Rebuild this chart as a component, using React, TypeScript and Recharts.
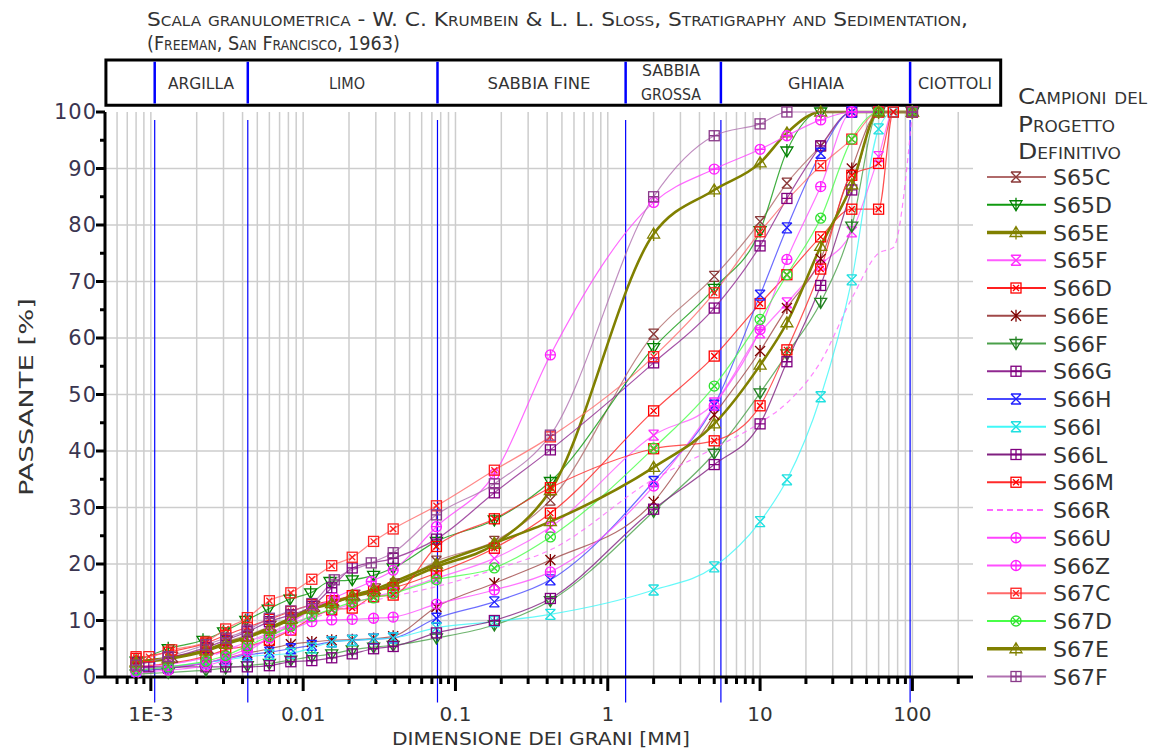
import React from 'react';
import { LineChart, Line, XAxis, YAxis, CartesianGrid, ReferenceLine, ReferenceArea, Legend } from 'recharts';

type Pt = [number, number];

// grain size [mm], passing [%]
const S65C: Pt[] = [[0.0008, 2.4], [0.0014, 3.5], [0.0024, 5], [0.0032, 6.3], [0.0044, 7.5], [0.0062, 9], [0.0085, 10.5], [0.012, 12.5], [0.016, 13.5], [0.022, 14.5], [0.03, 15.6], [0.04, 16.5], [0.075, 20.5], [0.18, 24], [0.42, 31.3], [2, 60.7], [5, 70.9], [10, 80.6], [15, 87.4], [25, 94], [40, 100], [100, 100]];
const S65D: Pt[] = [[0.0008, 2.8], [0.0013, 5], [0.0022, 6.5], [0.003, 8], [0.0042, 10], [0.0059, 12], [0.0082, 13.8], [0.0112, 14.9], [0.015, 16.9], [0.021, 17.2], [0.029, 18], [0.039, 19.3], [0.075, 24], [0.18, 27.8], [0.42, 34.6], [2, 58.3], [5, 68.8], [10, 79], [15, 93.1], [25, 100], [100, 100]];
const S65E: Pt[] = [[0.0008, 2.7], [0.0013, 3.4], [0.0023, 4.8], [0.0031, 6], [0.0043, 7.1], [0.006, 8.7], [0.0083, 10.4], [0.0114, 12.2], [0.0154, 13.1], [0.021, 14.2], [0.029, 15.1], [0.039, 16.3], [0.075, 19.5], [0.18, 23.5], [0.42, 33], [2, 78.4], [5, 86.2], [10, 91], [15, 96.3], [25, 100], [100, 100]];
const S65F: Pt[] = [[0.0008, 1.5], [0.0013, 2.2], [0.0023, 3.5], [0.0031, 4.8], [0.0043, 6.2], [0.006, 7.8], [0.0083, 9.4], [0.0114, 10.8], [0.0154, 11.8], [0.021, 13], [0.029, 14.2], [0.039, 15], [0.075, 17.5], [0.18, 21], [0.42, 26.5], [2, 42.8], [5, 48.5], [10, 60.9], [15, 66.2], [25, 72.9], [40, 78.8], [60, 92.1], [75, 100], [100, 100]];
const S66D: Pt[] = [[0.0008, 3.3], [0.0013, 4.4], [0.0023, 6], [0.0031, 7.4], [0.0043, 8.8], [0.006, 10.2], [0.0083, 11.6], [0.0114, 12.8], [0.0154, 13.5], [0.021, 14.4], [0.029, 15.2], [0.039, 15.8], [0.075, 18.4], [0.18, 22.8], [0.42, 29], [2, 47.1], [5, 56.8], [10, 66.1], [15, 71.2], [25, 77.9], [40, 82.8], [60, 82.8], [75, 100], [100, 100]];
const S66E: Pt[] = [[0.0008, 1], [0.0013, 1.5], [0.0023, 2.5], [0.0031, 3.3], [0.0043, 4.2], [0.006, 5], [0.0083, 5.8], [0.0114, 6.2], [0.0154, 6.5], [0.021, 6.6], [0.029, 6.8], [0.039, 7.2], [0.075, 12.4], [0.18, 16.6], [0.42, 20.7], [2, 31], [5, 46.4], [10, 57.7], [15, 65.3], [25, 74], [40, 90], [60, 100], [100, 100]];
const S66F: Pt[] = [[0.0008, 0.5], [0.0013, 0.8], [0.0023, 1.2], [0.0031, 1.6], [0.0043, 2], [0.006, 2.4], [0.0083, 3], [0.0114, 3.6], [0.0154, 4.1], [0.021, 4.8], [0.029, 5.3], [0.039, 5.6], [0.075, 6.9], [0.18, 9.2], [0.42, 13.5], [2, 29.3], [5, 39.6], [10, 50.3], [15, 57.2], [25, 66.3], [40, 79.8], [60, 100], [100, 100]];
const S66G: Pt[] = [[0.0008, 2.5], [0.0013, 3.4], [0.0023, 5.2], [0.0031, 6.5], [0.0043, 8], [0.006, 9.8], [0.0083, 11], [0.0114, 12.5], [0.0154, 15.8], [0.021, 19.3], [0.039, 21], [0.075, 24.4], [0.18, 32.6], [0.42, 40.2], [2, 55.6], [5, 65.3], [10, 76.3], [15, 84.7], [25, 94], [40, 100], [100, 100]];
const S66H: Pt[] = [[0.0008, 1], [0.0013, 1.6], [0.0023, 2.5], [0.0031, 3.2], [0.0043, 3.9], [0.006, 4.4], [0.0083, 5], [0.0114, 5.6], [0.0154, 6.2], [0.021, 6.5], [0.029, 6.7], [0.039, 6.9], [0.075, 10.4], [0.18, 13.3], [0.42, 17.2], [2, 34.6], [5, 48.1], [10, 67.6], [15, 79.5], [25, 92.7], [40, 100], [100, 100]];
const S66I: Pt[] = [[0.0008, 1.2], [0.0013, 1.8], [0.0023, 2.6], [0.0031, 3], [0.0043, 3.6], [0.006, 3.9], [0.0083, 4.2], [0.0114, 5.1], [0.0154, 6.2], [0.021, 6.5], [0.029, 6.7], [0.039, 6.9], [0.075, 8.7], [0.18, 9.8], [0.42, 11.1], [2, 15.4], [5, 19.5], [10, 27.5], [15, 34.9], [25, 49.6], [40, 70.3], [60, 97], [75, 100], [100, 100]];
const S66L: Pt[] = [[0.0008, 1.8], [0.00097, 1.8], [0.0013, 1.8], [0.0023, 1.8], [0.0031, 1.8], [0.0043, 1.8], [0.006, 2], [0.0083, 2.7], [0.0114, 2.9], [0.0154, 3.4], [0.021, 4.1], [0.029, 5], [0.039, 5.4], [0.075, 7.8], [0.18, 10], [0.42, 13.9], [2, 29.7], [5, 37.6], [10, 44.8], [15, 55.8], [25, 69.3], [40, 86.2], [60, 100], [100, 100]];
const S66M: Pt[] = [[0.0008, 1.8], [0.0023, 3.7], [0.0031, 4.8], [0.0043, 5.5], [0.006, 6.5], [0.0083, 8.3], [0.0154, 11.9], [0.021, 12.2], [0.029, 14.2], [0.039, 14.5], [0.075, 23.1], [0.18, 28], [0.42, 33.5], [2, 40.4], [5, 41.8], [10, 48], [15, 57.9], [25, 72.2], [40, 88.8], [60, 90.9], [75, 100], [100, 100]];
const S66R: Pt[] = [[0.0008, 1.8], [0.0023, 3.5], [0.0043, 6], [0.0083, 9], [0.0154, 11.5], [0.029, 13.5], [0.075, 16], [0.18, 19], [0.42, 22.5], [2, 35], [5, 40.5], [10, 45], [15, 48.5], [25, 55.8], [40, 67], [60, 75], [75, 76], [100, 100]];
const S66U: Pt[] = [[0.0008, 1.2], [0.0013, 1.8], [0.0023, 2.5], [0.0031, 3.5], [0.0043, 5], [0.006, 7], [0.0083, 9.5], [0.0114, 12], [0.016, 14], [0.028, 16.9], [0.039, 18.9], [0.075, 26.6], [0.18, 35.9], [0.42, 57], [2, 84], [5, 89.9], [10, 93.4], [15, 95.8], [25, 98.6], [40, 100], [100, 100]];
const S66Z: Pt[] = [[0.0008, 0.8], [0.0013, 1.2], [0.0023, 2], [0.0031, 3], [0.0043, 4.5], [0.006, 6.9], [0.0083, 8.3], [0.0114, 9.8], [0.0154, 10.1], [0.021, 10.2], [0.029, 10.4], [0.039, 10.6], [0.075, 12.9], [0.18, 15.4], [0.42, 18.6], [2, 33.8], [5, 48], [10, 61.5], [15, 73.9], [25, 86.8], [40, 100], [100, 100]];
const S67C: Pt[] = [[0.0008, 3.6], [0.00097, 3.6], [0.00137, 4.8], [0.0023, 6.2], [0.0031, 8.5], [0.0043, 10.5], [0.006, 13.5], [0.0083, 14.9], [0.0114, 17.3], [0.0154, 19.7], [0.021, 21.2], [0.029, 24], [0.039, 26.2], [0.075, 30.3], [0.18, 36.6], [0.42, 42.5], [2, 56.7], [5, 68], [10, 78.8], [25, 90.5], [40, 95.2], [60, 100], [100, 100]];
const S67D: Pt[] = [[0.0008, 1.2], [0.0013, 1.8], [0.0023, 2.8], [0.0031, 3.8], [0.0043, 5.5], [0.006, 7.2], [0.0083, 9], [0.0114, 10.8], [0.0154, 12], [0.021, 13.2], [0.029, 14], [0.039, 14.8], [0.075, 17.2], [0.18, 19.3], [0.42, 24.8], [2, 40.5], [5, 51.5], [10, 63.3], [15, 71.2], [25, 81.2], [40, 95.2], [60, 100], [100, 100]];
const S67E: Pt[] = [[0.0008, 2.5], [0.0013, 3.2], [0.0023, 4.6], [0.0031, 5.8], [0.0043, 7], [0.006, 8.5], [0.0083, 10.2], [0.0114, 12], [0.0154, 13], [0.021, 14.4], [0.029, 15.5], [0.039, 16.8], [0.075, 20], [0.18, 23.7], [0.42, 27.5], [2, 37.1], [5, 44.8], [10, 55.2], [15, 62.7], [25, 76.2], [40, 87.1], [60, 100], [100, 100]];
const S67F: Pt[] = [[0.0008, 2.1], [0.0013, 3.6], [0.0023, 5.7], [0.0031, 6.9], [0.0043, 8.3], [0.006, 10.4], [0.0083, 11.7], [0.0114, 13], [0.016, 17.2], [0.028, 20.2], [0.039, 22], [0.075, 28.7], [0.18, 34.2], [0.42, 42.8], [2, 85], [5, 95.8], [10, 97.9], [15, 100], [100, 100]];

const SERIES = [
  { name: 'S65C', data: S65C, color: '#b06a6a', mark: '#8b3a3a', shape: 'xbow', w: 1.2 },
  { name: 'S65D', data: S65D, color: '#109a10', mark: '#008000', shape: 'vtri', w: 1.2 },
  { name: 'S65E', data: S65E, color: '#808000', mark: '#808000', shape: 'tri', w: 2.6 },
  { name: 'S65F', data: S65F, color: '#ff5cff', mark: '#ff30ff', shape: 'xbow', w: 1.2 },
  { name: 'S66D', data: S66D, color: '#ff2020', mark: '#ff0000', shape: 'sqx', w: 1.2 },
  { name: 'S66E', data: S66E, color: '#a04848', mark: '#800000', shape: 'star', w: 1.2 },
  { name: 'S66F', data: S66F, color: '#4aa04a', mark: '#208020', shape: 'vtri', w: 1.2 },
  { name: 'S66G', data: S66G, color: '#902890', mark: '#800080', shape: 'sqplus', w: 1.2 },
  { name: 'S66H', data: S66H, color: '#4848ff', mark: '#2020ff', shape: 'xbow', w: 1.2 },
  { name: 'S66I', data: S66I, color: '#40f8f8', mark: '#20e0e0', shape: 'xbow', w: 1.2 },
  { name: 'S66L', data: S66L, color: '#802080', mark: '#800080', shape: 'sqplus', w: 1.2 },
  { name: 'S66M', data: S66M, color: '#ff2a2a', mark: '#ff0000', shape: 'sqx', w: 1.2 },
  { name: 'S66R', data: S66R, color: '#ff66ff', mark: '#ff66ff', shape: 'none', w: 1.2, dash: '5 4' },
  { name: 'S66U', data: S66U, color: '#ff44ff', mark: '#ff20ff', shape: 'cplus', w: 1.2 },
  { name: 'S66Z', data: S66Z, color: '#ff50ff', mark: '#ff20ff', shape: 'cplus', w: 1.2 },
  { name: 'S67C', data: S67C, color: '#ff6a6a', mark: '#ff2020', shape: 'sqx', w: 1.2 },
  { name: 'S67D', data: S67D, color: '#48ff48', mark: '#30e030', shape: 'cx', w: 1.2 },
  { name: 'S67E', data: S67E, color: '#808000', mark: '#808000', shape: 'tri', w: 2.6 },
  { name: 'S67F', data: S67F, color: '#b070b0', mark: '#8a3a8a', shape: 'sqplus', w: 1.2 },
];

const X_MAJOR = [0.001, 0.01, 0.1, 1, 10, 100];
const X_MAJOR_LABELS = ['1E-3', '0.01', '0.1', '1', '10', '100'];
const Y_TICKS = [0, 5, 10, 15, 20, 25, 30, 35, 40, 45, 50, 55, 60, 65, 70, 75, 80, 85, 90, 95, 100];
const Y_GRID = [10, 20, 30, 40, 50, 60, 70, 80, 90];

// class boundaries [mm] and names of the header box
const ZONE_BOUNDS = [0.00106, 0.00433, 0.0762, 1.31, 5.53, 96.6];
const ZONES = [
  { label: ['ARGILLA'], x: 201, len: 66 },
  { label: ['LIMO'], x: 347, len: 36 },
  { label: ['SABBIA FINE'], x: 539, len: 103 },
  { label: ['SABBIA', 'GROSSA'], x: 671, len: 58 },
  { label: ['GHIAIA'], x: 816, len: 56 },
  { label: ['CIOTTOLI'], x: 955, len: 74 },
];
const LEGEND_TITLE = [
  { t: 'Campioni del', len: 129 },
  { t: 'Progetto', len: 97 },
  { t: 'Definitivo', len: 103 },
];

const X_TICKS: number[] = [];
[-4, -3, -2, -1, 0, 1, 2].forEach((e) => {
  [1, 2, 3, 4, 5, 6, 7, 8, 9].forEach((m) => {
    const v = +(m * Math.pow(10, e)).toPrecision(3);
    if (v >= 6e-4 && v <= 200) X_TICKS.push(v);
  });
});

const majorIndex = (v: number) => X_MAJOR.findIndex((m) => Math.abs(v / m - 1) < 1e-6);

const FONT = "'DejaVu Sans', sans-serif";
const CAD = "'Liberation Sans Narrow', 'DejaVu Sans Condensed', 'DejaVu Sans', sans-serif";

const BottomTick = ({ x, y, payload }: any) => {
  const i = majorIndex(payload.value);
  return (
    <g>
      <line x1={x} x2={x} y1={y} y2={y + (i >= 0 ? 14 : 7)} stroke="#000" strokeWidth={3} />
      {i >= 0 && (
        <text x={x} y={y + 44} textAnchor="middle" fontFamily={FONT} fontSize={20} fill="#333">
          {X_MAJOR_LABELS[i]}
        </text>
      )}
    </g>
  );
};

const TopTick = ({ x, y, payload }: any) => {
  const i = majorIndex(payload.value);
  return <line x1={x} x2={x} y1={y} y2={y + (i >= 0 ? 13 : 6)} stroke="#000" strokeWidth={3} />;
};

const LeftTick = ({ x, y, payload }: any) => {
  const major = payload.value % 10 === 0;
  return (
    <g>
      <line x1={x - (major ? 9 : 5)} x2={x} y1={y} y2={y} stroke="#000" strokeWidth={3} />
      {major && (
        <text x={x - 8} y={y + 7} textAnchor="end" fontFamily={FONT} fontSize={21} letterSpacing={1} fill="#3a3550">
          {payload.value}
        </text>
      )}
    </g>
  );
};

const RightTick = ({ x, y, payload }: any) => {
  const major = payload.value % 10 === 0;
  return <line x1={x - (major ? 9 : 5)} x2={x} y1={y} y2={y} stroke="#000" strokeWidth={3} />;
};

function Marker({ cx, cy, shape, color }: any) {
  if (cx == null || cy == null || shape === 'none') return null;
  const r = 5;
  const g = { stroke: color, strokeWidth: 1.3, fill: 'none' };
  const X = `M${cx - r},${cy - r}L${cx + r},${cy + r}M${cx + r},${cy - r}L${cx - r},${cy + r}`;
  const Xs = `M${cx - 3},${cy - 3}L${cx + 3},${cy + 3}M${cx + 3},${cy - 3}L${cx - 3},${cy + 3}`;
  const P = `M${cx - r},${cy}L${cx + r},${cy}M${cx},${cy - r}L${cx},${cy + r}`;
  switch (shape) {
    case 'sqx':
      return <g {...g}><rect x={cx - r} y={cy - r} width={2 * r} height={2 * r} /><path d={Xs} /></g>;
    case 'sqplus':
      return <g {...g}><rect x={cx - r} y={cy - r} width={2 * r} height={2 * r} /><path d={P} /></g>;
    case 'cplus':
      return <g {...g}><circle cx={cx} cy={cy} r={r} /><path d={P} /></g>;
    case 'cx':
      return <g {...g}><circle cx={cx} cy={cy} r={r} /><path d={Xs} /></g>;
    case 'tri':
      return <g {...g}><path d={`M${cx},${cy - r - 1}L${cx + r + 1},${cy + r - 1}L${cx - r - 1},${cy + r - 1}Z M${cx},${cy - r - 1}L${cx},${cy + r + 2}`} /></g>;
    case 'vtri':
      return <g {...g}><path d={`M${cx - r - 1},${cy - r + 1}L${cx + r + 1},${cy - r + 1}L${cx},${cy + r + 1}Z M${cx},${cy - r - 2}L${cx},${cy + r + 1}`} /></g>;
    case 'star':
      return <g {...g}><path d={`M${cx},${cy - r - 1}L${cx},${cy + r + 1}M${cx - r},${cy - r}L${cx + r},${cy + r}M${cx + r},${cy - r}L${cx - r},${cy + r}`} /></g>;
    default:
      return <g {...g}><path d={`${X}M${cx - r},${cy - r}L${cx + r},${cy - r}M${cx - r},${cy + r}L${cx + r},${cy + r}`} /></g>;
  }
}

const LegendBox = () => (
  <svg width={174} height={610}>
    {LEGEND_TITLE.map((l, i) => (
      <text
        key={l.t}
        x={33}
        y={24 + i * 27.5}
        fontFamily={CAD}
        fontSize={22}
        fill="#333"
        textLength={l.len}
        lengthAdjust="spacingAndGlyphs"
        style={{ fontVariant: 'small-caps' }}
      >
        {l.t}
      </text>
    ))}
    {SERIES.map((s, i) => {
      const cy = 97 + i * 27.75;
      return (
        <g key={s.name}>
          <line x1={2} x2={61} y1={cy} y2={cy} stroke={s.color} strokeWidth={s.w > 2 ? 3.5 : 1.8} strokeDasharray={s.dash ? '6 4' : undefined} />
          <Marker cx={31} cy={cy} shape={s.shape} color={s.mark} />
          <text x={68} y={cy + 8} fontFamily={FONT} fontSize={22} fill="#333">{s.name}</text>
        </g>
      );
    })}
  </svg>
);

export default function App() {
  return (
    <div style={{ position: 'absolute', left: 0, top: 0, width: 1159, height: 751, background: '#fff' }}>
      <LineChart width={1159} height={751} margin={{ top: 112, right: 186, bottom: 34, left: 45 }}>
        <CartesianGrid horizontalValues={Y_GRID} verticalValues={X_TICKS} stroke="#cdcdcd" strokeWidth={1.5} />
        <XAxis
          dataKey="d"
          type="number"
          scale="log"
          domain={[5e-4, 250]}
          allowDataOverflow
          ticks={X_TICKS}
          interval={0}
          tickLine={false}
          tickSize={0}
          tickMargin={0}
          height={40}
          axisLine={{ stroke: '#000', strokeWidth: 3 }}
          tick={(p: any) => <BottomTick {...p} />}
        />
        <XAxis
          xAxisId="top"
          orientation="top"
          dataKey="d"
          type="number"
          scale="log"
          domain={[5e-4, 250]}
          allowDataOverflow
          ticks={X_TICKS}
          interval={0}
          tickLine={false}
          tickSize={0}
          tickMargin={0}
          height={0}
          axisLine={{ stroke: '#000', strokeWidth: 3 }}
          tick={(p: any) => <TopTick {...p} />}
        />
        <YAxis
          type="number"
          domain={[0, 100]}
          ticks={Y_TICKS}
          interval={0}
          tickLine={false}
          tickSize={0}
          tickMargin={0}
          width={60}
          axisLine={{ stroke: '#000', strokeWidth: 3 }}
          tick={(p: any) => <LeftTick {...p} />}
        />
        <YAxis
          yAxisId="r"
          orientation="right"
          type="number"
          domain={[0, 100]}
          ticks={Y_TICKS}
          interval={0}
          tickLine={false}
          tickSize={0}
          tickMargin={0}
          width={0}
          axisLine={{ stroke: '#000', strokeWidth: 3 }}
          tick={(p: any) => <RightTick {...p} />}
        />
        <ReferenceArea x1={5.07e-4} x2={380} y1={101.2} y2={109.2} fill="none" stroke="#000" strokeWidth={3} ifOverflow="visible" />
        {ZONE_BOUNDS.map((b) => (
          <ReferenceLine key={`z${b}`} segment={[{ x: b, y: -4.5 }, { x: b, y: 98.6 }]} stroke="#0000ff" strokeWidth={1.2} ifOverflow="visible" />
        ))}
        {ZONE_BOUNDS.map((b) => (
          <ReferenceLine key={`h${b}`} segment={[{ x: b, y: 101.5 }, { x: b, y: 108.9 }]} stroke="#0000ff" strokeWidth={2.5} ifOverflow="visible" />
        ))}
        {SERIES.map((s) => (
          <Line
            key={s.name}
            name={s.name}
            data={s.data.map(([d, p]) => ({ d, p }))}
            dataKey="p"
            type="monotone"
            stroke={s.color}
            strokeWidth={s.w}
            strokeOpacity={s.w > 2 ? 1 : 0.8}
            strokeDasharray={s.dash}
            isAnimationActive={false}
            activeDot={false}
            dot={s.shape === 'none' ? false : (p: any) => <Marker key={`${s.name}-${p.index}`} cx={p.cx} cy={p.cy} shape={s.shape} color={s.mark} />}
          />
        ))}
        <Legend
          layout="vertical"
          align="center"
          verticalAlign="middle"
          wrapperStyle={{ left: 985, top: 80, width: 174, height: 610 }}
          content={() => <LegendBox />}
        />
      </LineChart>
      <svg width={1159} height={751} style={{ position: 'absolute', left: 0, top: 0, pointerEvents: 'none' }}>
        <g fontFamily={CAD} fill="#333" style={{ fontVariant: 'small-caps' }}>
          <text x={147} y={26} fontSize={20} textLength={821} lengthAdjust="spacingAndGlyphs">
            Scala granulometrica - W. C. Krumbein &amp; L. L. Sloss, Stratigraphy and Sedimentation,
          </text>
          <text x={147} y={50} fontSize={20} textLength={253} lengthAdjust="spacingAndGlyphs">
            (Freeman, San Francisco, 1963)
          </text>
        </g>
        {ZONES.map((z) =>
          z.label.map((t, j) => (
            <text
              key={t}
              x={z.x}
              y={z.label.length > 1 ? 76 + j * 24 : 89}
              textAnchor="middle"
              fontFamily={CAD}
              fontSize={16}
              fill="#333"
              textLength={j === 1 ? z.len + 2 : z.len}
              lengthAdjust="spacingAndGlyphs"
            >
              {t}
            </text>
          ))
        )}
        <text x={541} y={745} textAnchor="middle" fontFamily={CAD} fontSize={18} fill="#333" textLength={298} lengthAdjust="spacingAndGlyphs">
          DIMENSIONE DEI GRANI [MM]
        </text>
        <text x={0} y={0} transform="translate(33,397) rotate(-90)" textAnchor="middle" fontFamily={CAD} fontSize={19} fill="#333" textLength={198} lengthAdjust="spacingAndGlyphs">
          PASSANTE [%]
        </text>
      </svg>
    </div>
  );
}
